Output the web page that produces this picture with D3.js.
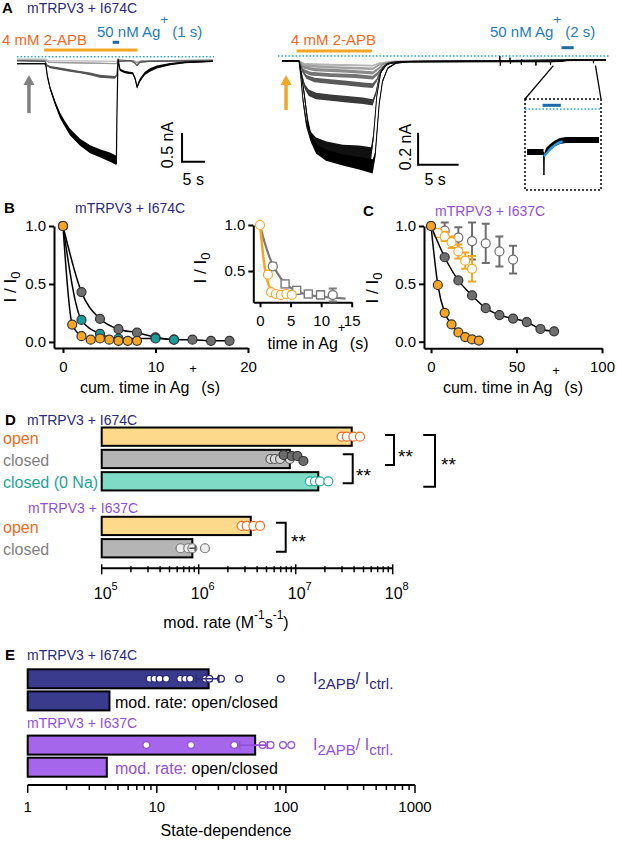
<!DOCTYPE html>
<html lang="en">
<head>
<meta charset="UTF-8">
<title>mTRPV3 state-dependent modification</title>
<script src="https://d3js.org/d3.v7.min.js"></script>
<style>
  body { margin: 0; background: #fff; }
  svg { display: block; }
</style>
</head>
<body>
<svg id="fig" width="617" height="841"></svg>
<script>
// ---------- data ----------
// panel A traces: [time (s), inward current (nA), noise half-width (nA)]
var leftBlack = [[0,0.12,0.01],[6.1,0.12,0.01],[6.3,0.16,0.02],[6.6,0.34,0.03],[7.2,0.55,0.03],[8.3,0.81,0.04],
  [9.35,1.02,0.05],[10.4,1.17,0.05],[11.5,1.31,0.06],[13.7,1.49,0.06],[15.9,1.61,0.07],[18,1.68,0.07],
  [20.2,1.75,0.08],[21.5,1.8,0.08],[21.6,1.86,0.04],[21.7,1.11,0.01],[21.9,0.23,0.01],[21.96,0.04,0.01],
  [22.4,0.23,0.02],[23.5,0.27,0.02],[25.2,0.29,0.02],[25.7,0.39,0.025],[26.1,0.53,0.03],[26.7,0.41,0.03],
  [27.8,0.29,0.03],[28.9,0.23,0.03],[30.4,0.18,0.025],[33.3,0.13,0.02],[36.5,0.1,0.015],[42.6,0.08,0.01]];
var leftGrey = [[0,0.07,0.008],[6.1,0.08,0.008],[6.5,0.15,0.015],[7.2,0.18,0.02],[9.35,0.21,0.02],[11.5,0.24,0.02],
  [13.7,0.27,0.02],[15.9,0.3,0.025],[18,0.34,0.025],[21.3,0.36,0.025],[21.7,0.32,0.01],[21.96,0.08,0.008],
  [24.6,0.07,0.008],[25.4,0.095,0.01],[26.1,0.15,0.01],[26.7,0.095,0.01],[28.9,0.08,0.008],[42.6,0.07,0.008]];
var leftLight1 = [[0,0.06,0.006],[6.1,0.06,0.006],[7,0.1,0.01],[21.6,0.12,0.01],[22,0.06,0.006],[25.4,0.07,0.006],
  [26.1,0.11,0.008],[27,0.07,0.006],[42.6,0.06,0.006]];
var leftLight2 = [[0,0.04,0.005],[6.1,0.04,0.005],[7,0.07,0.008],[21.6,0.08,0.008],[22,0.05,0.005],[26,0.08,0.006],[42.6,0.05,0.005]];

var rightBlack1 = [[0,0.03,0.004],[2.1,0.03,0.004],[2.35,0.1,0.01],[2.75,0.24,0.02],[3.17,0.41,0.025],[3.58,0.51,0.03],
  [4.2,0.58,0.03],[5.43,0.62,0.035],[7.5,0.65,0.035],[9.5,0.67,0.04],[11.2,0.69,0.045],[11.5,0.62,0.02],
  [12.0,0.3,0.01],[12.4,0.16,0.008],[13.05,0.076,0.006],[14.1,0.044,0.005],[15.7,0.035,0.004],
  [26.85,0.035,0.004],[26.9,0.0,0.003],[26.95,0.06,0.003],[27.0,0.035,0.004],[28.1,0.035,0.004],[28.15,0.01,0.003],
  [28.2,0.05,0.003],[28.25,0.035,0.004],[29.5,0.035,0.004],[29.55,0.055,0.003],[29.6,0.02,0.003],[29.65,0.035,0.004],
  [31.3,0.035,0.004],[31.35,0.06,0.003],[31.4,0.035,0.004],[33.1,0.035,0.004],[33.15,0.055,0.003],[33.2,0.035,0.004],
  [34.5,0.033,0.004],[35.5,0.024,0.004],[38.4,0.024,0.004],[38.45,0.045,0.003],[38.5,0.024,0.004],[40,0.022,0.004]];
var rightBlack2 = [[0,0.03,0.004],[2.1,0.03,0.004],[2.3,0.12,0.01],[2.6,0.28,0.02],[3.0,0.42,0.025],[3.5,0.5,0.03],
  [4.2,0.54,0.03],[5.5,0.57,0.035],[7.5,0.59,0.035],[9.5,0.6,0.04],[11.0,0.61,0.04],[11.3,0.5,0.02],
  [11.7,0.25,0.01],[12.2,0.1,0.008],[13,0.05,0.005],[14.5,0.035,0.004],[40,0.024,0.004]];
var rightDark = [[0,0.03,0.004],[2.1,0.03,0.004],[2.4,0.11,0.01],[2.8,0.19,0.015],[3.3,0.23,0.02],[4.2,0.25,0.02],
  [6,0.26,0.02],[8,0.27,0.02],[10,0.28,0.02],[11.2,0.29,0.02],[11.6,0.23,0.01],[12.0,0.13,0.008],
  [12.5,0.07,0.006],[13.2,0.045,0.005],[15,0.035,0.004],[40,0.025,0.004]];
var rightG1 = [[0,0.03,0.004],[2.1,0.03,0.004],[2.5,0.09,0.01],[3,0.13,0.012],[4,0.15,0.014],[6,0.16,0.015],
  [8,0.17,0.015],[10,0.18,0.015],[11.2,0.185,0.015],[11.7,0.15,0.01],[12.2,0.09,0.008],[12.8,0.05,0.005],
  [14,0.035,0.004],[40,0.025,0.004]];
var rightG2 = [[0,0.03,0.004],[2.1,0.03,0.004],[2.6,0.09,0.01],[3.5,0.11,0.012],[6,0.12,0.012],[9,0.125,0.012],
  [11.2,0.135,0.012],[11.8,0.11,0.01],[12.4,0.07,0.006],[13.5,0.04,0.004],[40,0.025,0.004]];
var rightG3 = [[0,0.03,0.004],[2.1,0.03,0.004],[2.6,0.07,0.008],[4,0.085,0.01],[8,0.095,0.01],[11.2,0.105,0.01],
  [11.9,0.08,0.008],[12.5,0.05,0.005],[14,0.035,0.004],[40,0.025,0.004]];
var rightG4 = [[0,0.03,0.004],[2.1,0.03,0.004],[2.7,0.06,0.008],[6,0.07,0.008],[11.2,0.08,0.008],[12,0.055,0.006],
  [13.5,0.035,0.004],[40,0.025,0.004]];
var rightG5 = [[0,0.03,0.004],[2.1,0.03,0.004],[2.8,0.05,0.006],[6,0.055,0.006],[11.2,0.06,0.006],[12,0.045,0.005],
  [13.5,0.033,0.004],[40,0.025,0.004]];
// zoomed inset of the Ag+ application: [time (s), current (pA), noise (pA)]
var insetTrace = [[0,43,3],[1.9,43,3],[1.95,66,0.5],[2.0,46,2],[2.2,42,3],[2.6,38.5,3],[3.2,34.5,3],
  [3.8,32,3],[4.5,31,3],[6,31,3],[8.3,31,3]];
var insetFit = [[1.95,47.5],[2.4,43],[2.9,38.5],[3.4,35],[4.1,32.5]];

// panel B (I674C): cumulative time in Ag+ (s) and I/I0
var bTimeGrey = [0,2,4,6,8,10,12,14,16,18];
var bGrey = [1,0.43,0.2,0.11,0.08,0.04,0.02,0.02,0.01,0.01];
var bTimeTeal = [0,2,4,6,10,12];
var bTeal = [1,0.19,0.07,0.03,0.03,0.02];
var bTimeOrange = [0,1,2,3,4,5,6,7,8];
var bOrange = [1,0.15,0.05,0.02,0.03,0.02,0.01,0.01,0.01];
// panel B inset
var biTimeOrange = [0,1.3,1.8,2.6,3.4,4.3,5.2];
var biOrange = [1,0.46,0.27,0.25,0.24,0.25,0.24];
var biTimeGrey = [2.1,4.1,6,7.9,9.9,11.9];
var biGrey = [0.55,0.36,0.29,0.25,0.24,0.24];
var biGreyErr = [0.04,0.02,0.02,0.02,0.04,0.07];
var biGreyShape = ["circle","square","square","square","square","circle"];
var biFitGreyT = [0,0.5,1,1.5,2,3,4,5,6,8,10,12,14];
var biFitGrey = [1,0.87,0.76,0.66,0.58,0.46,0.37,0.32,0.28,0.24,0.22,0.21,0.2];
var biFitOrangeT = [0,0.3,0.6,1,1.4,1.8,2.4,3,4,5.3];
var biFitOrange = [1,0.8,0.62,0.45,0.35,0.3,0.27,0.255,0.25,0.25];

// panel C (I637C)
var cTimeGrey = [0,8,16,24,32,40,48,56,64,72];
var cGrey = [1,0.73,0.53,0.4,0.29,0.23,0.2,0.17,0.11,0.09];
var cTimeOrange = [0,4,8,12,16,20,24,28];
var cOrange = [1,0.49,0.25,0.15,0.08,0.04,0.02,0.01];
var cTimeOpenOrange = [4,8,12,16,20,24];
var cOpenOrange = [0.94,0.91,0.86,0.78,0.7,0.63];
var cOpenOrangeErr = [0.03,0.04,0.05,0.06,0.07,0.11];
var cTimeOpenGrey = [8,16,24,32,40,48];
var cOpenGrey = [0.96,0.9,0.87,0.85,0.78,0.71];
var cOpenGreyErr = [0.07,0.09,0.16,0.17,0.13,0.12];

// panel D: modification rates (M-1 s-1)
var dLabels = ["open", "closed", "closed (0 Na)", "open", "closed"];
var dMeans = [3.78e7, 8.7e6, 1.71e7, 3.44e6, 8.6e5];
var dSem = [0, 0, 0, 0, 0.6e5];
var dPoints = [[2.98e7,3.36e7,3.93e7,4.6e7],
  [5.5e6,6.1e6,6.9e6,8.7e6],
  [1.40e7,1.58e7,1.78e7,2.17e7],
  [2.77e6,3.12e6,3.66e6,4.29e6],
  [6.5e5,7.8e5,8.6e5,1.16e6]];
var dClosedDark = [7.5e6,9.1e6,1.04e7,1.2e7];

// panel E: state-dependence
var eMeans = [25.2, 4.3, 57.8, 4.1];
var eSem = [5, 0, 14, 0];
var ePoints674 = [8.8,9.6,10.5,11.8,15.2,16.6,18.1,23.8,25.5,31.4,43.4,91.2];
var ePoints637 = [8.3,18.4,39.8,66,76,95,110];

// ---------- drawing ----------
var FONT = "'Liberation Sans', Arial, Helvetica, sans-serif";
var navy = "#2b2a7c", purple = "#9350db", orangeTxt = "#f26a21", orange = "#f6a623",
    blueTxt = "#1f7db8", blueBar = "#1c6aa6", cyan = "#29abe2", teal = "#1fa396", greyTxt = "#808080";

var svg = d3.select("#fig").attr("font-family", FONT);
svg.append("rect").attr("width", 617).attr("height", 841).attr("fill", "#fff");

function addText(x, y, str, size, fill, anchor, weight) {
    return svg.append("text")
        .attr("x", x).attr("y", y)
        .attr("font-size", size)
        .attr("fill", fill || "#000")
        .attr("text-anchor", anchor || "start")
        .attr("font-weight", weight || "normal")
        .text(str);
}

function trace(g, data, xs, ys, color, w) {
    var band = d3.area()
        .x(function (d) { return xs(d[0]); })
        .y0(function (d) { return ys(d[1] - d[2]); })
        .y1(function (d) { return ys(d[1] + d[2]); });
    var mid = d3.line()
        .x(function (d) { return xs(d[0]); })
        .y(function (d) { return ys(d[1]); });
    g.append("path").datum(data).attr("d", band).attr("fill", color);
    g.append("path").datum(data).attr("d", mid)
        .attr("fill", "none").attr("stroke", color)
        .attr("stroke-width", w).attr("stroke-linejoin", "round");
}

function hline(g, x1, x2, y, color, w, dash) {
    var l = g.append("line").attr("x1", x1).attr("x2", x2).attr("y1", y).attr("y2", y)
        .attr("stroke", color).attr("stroke-width", w);
    if (dash) l.attr("stroke-dasharray", dash);
    return l;
}

function arrow(g, x, yTail, yTip, color) {
    g.append("line").attr("x1", x).attr("x2", x).attr("y1", yTail).attr("y2", yTip + 8)
        .attr("stroke", color).attr("stroke-width", 3.5);
    g.append("path").attr("d", "M" + (x - 5.5) + "," + (yTip + 10) + "L" + x + "," + yTip + "L" + (x + 5.5) + "," + (yTip + 10) + "Z")
        .attr("fill", color);
}

function scaleBar(g, x, y0, y1, x1) {
    g.append("path").attr("d", "M" + x + "," + y0 + "V" + y1 + "H" + x1)
        .attr("fill", "none").attr("stroke", "#000").attr("stroke-width", 2);
}

function rotLabel(x, y, str, size) {
    svg.append("text").attr("transform", "translate(" + x + "," + y + ") rotate(-90)")
        .attr("text-anchor", "middle").attr("font-size", size).text(str);
}

function ylabI(x, y) {
    var t = svg.append("text").attr("transform", "translate(" + x + "," + y + ") rotate(-90)")
        .attr("text-anchor", "middle").attr("font-size", 17);
    t.append("tspan").text("I / I");
    t.append("tspan").attr("font-size", 13).attr("dy", 4).text("0");
}

function agLabel(x, y, pre, up) {
    var t = svg.append("text").attr("x", x).attr("y", y).attr("text-anchor", "middle").attr("font-size", 16);
    t.append("tspan").text(pre + " Ag");
    t.append("tspan").attr("font-size", 13).attr("dy", -up).text("+");
    t.append("tspan").attr("dy", up).text(" (s)");
}

function styleAxis(g, fs) {
    g.attr("font-family", FONT).attr("font-size", fs);
    g.select(".domain").attr("stroke", "#000").attr("stroke-width", 2);
    g.selectAll(".tick line").attr("stroke", "#000").attr("stroke-width", 2);
    g.selectAll(".tick text").attr("fill", "#000");
}

// ----- panel A -----
addText(2, 13, "A", 15, "#000", "start", "bold");
addText(27, 13, "mTRPV3 + I674C", 14, navy);

var gA = svg.append("g");
var xL = d3.scaleLinear().domain([0, 42.6]).range([17, 213]);
var yL = d3.scaleLinear().domain([0, 1.9]).range([56.7, 165.8]);
hline(gA, 17, 214, yL(0), cyan, 1.6, "1.5,2");
trace(gA, leftLight2, xL, yL, "#c4c4c4", 1);
trace(gA, leftLight1, xL, yL, "#9a9a9a", 1);
trace(gA, leftGrey, xL, yL, "#555", 1.2);
trace(gA, leftBlack, xL, yL, "#000", 1.2);
hline(gA, xL(5.9), xL(26.2), 50, orange, 3);
hline(gA, xL(20.8), xL(22.2), 42.3, blueBar, 3);
arrow(gA, xL(2.6), 113, 75, "#808080");
scaleBar(gA, xL(35.87), yL(1.33), yL(1.83), xL(40.87));
rotLabel(173, 145, "0.5 nA", 16);
addText(xL(38.3), 185, "5 s", 16, "#000", "middle");

addText(2, 45, "4 mM 2-APB", 15, orangeTxt);
var t1 = svg.append("text").attr("x", 97).attr("y", 37).attr("font-size", 15).attr("fill", blueTxt);
t1.append("tspan").text("50 nM Ag");
t1.append("tspan").attr("font-size", 13).attr("dy", -13).text("+");
t1.append("tspan").attr("dy", 13).text("  (1 s)");

var xR = d3.scaleLinear().domain([0, 40]).range([282, 606]);
var yR = d3.scaleLinear().domain([0, 0.75]).range([56, 176]);
hline(gA, 278, 610, yR(0), cyan, 1.6, "1.5,2");
[[rightG5, "#b4b4b4"], [rightG4, "#a2a2a2"], [rightG3, "#8c8c8c"], [rightG2, "#737373"],
 [rightG1, "#5a5a5a"], [rightDark, "#3a3a3a"], [rightBlack2, "#111"], [rightBlack1, "#000"]]
    .forEach(function (p) { trace(gA, p[0], xR, yR, p[1], 1); });
hline(gA, xR(1.8), xR(11.1), 51, orange, 3);
hline(gA, xR(34.5), xR(36.0), 47.7, blueBar, 3);
arrow(gA, xR(0.5), 110, 75, orange);
scaleBar(gA, xR(16.8), yR(0.48), yR(0.68), xR(21.8));
rotLabel(411, 147, "0.2 nA", 16);
addText(xR(18.9), 185, "5 s", 16, "#000", "middle");
addText(291, 45, "4 mM 2-APB", 15, orangeTxt);
var t2 = svg.append("text").attr("x", 490).attr("y", 37).attr("font-size", 15).attr("fill", blueTxt);
t2.append("tspan").text("50 nM Ag");
t2.append("tspan").attr("font-size", 13).attr("dy", -13).text("+");
t2.append("tspan").attr("dy", 13).text("  (2 s)");

// inset of the Ag+ step
var xI = d3.scaleLinear().domain([0, 8.3]).range([527, 599]);
var yI = d3.scaleLinear().domain([0, 60]).range([109, 169]);
gA.append("rect").attr("x", 525).attr("y", 99).attr("width", 76).attr("height", 91)
    .attr("fill", "none").attr("stroke", "#000").attr("stroke-width", 1.5).attr("stroke-dasharray", "2,2");
gA.append("line").attr("x1", xR(33.5)).attr("y1", yR(0.06)).attr("x2", 525).attr("y2", 99).attr("stroke", "#000").attr("stroke-width", 1.3);
gA.append("line").attr("x1", xR(38.7)).attr("y1", yR(0.06)).attr("x2", 601).attr("y2", 99).attr("stroke", "#000").attr("stroke-width", 1.3);
hline(gA, 525, 601, yI(0), cyan, 1.6, "1.5,2");
hline(gA, xI(1.8), xI(3.9), 105.3, blueBar, 3);
trace(gA, insetTrace, xI, yI, "#000", 1);
gA.append("path").datum(insetFit)
    .attr("d", d3.line().curve(d3.curveMonotoneX).x(function (d) { return xI(d[0]); }).y(function (d) { return yI(d[1]); }))
    .attr("fill", "none").attr("stroke", "#2b9be0").attr("stroke-width", 2.5);

// ----- panel B -----
addText(4, 213, "B", 15, "#000", "start", "bold");
addText(75, 213, "mTRPV3 + I674C", 14, navy);
var gB = svg.append("g");
var xB = d3.scaleLinear().domain([-0.97, 20]).range([54, 248]);
var yB = d3.scaleLinear().domain([-0.052, 1]).range([348, 226]);
styleAxis(gB.append("g").attr("transform", "translate(0,348)")
    .call(d3.axisBottom(xB).tickValues([0, 10, 20]).tickSize(5).tickSizeOuter(0).tickPadding(8)), 15);
styleAxis(gB.append("g").attr("transform", "translate(54,0)")
    .call(d3.axisLeft(yB).tickValues([0, 0.5, 1]).tickFormat(d3.format(".1f")).tickSize(5).tickSizeOuter(0).tickPadding(3)), 15);
ylabI(16, 287);
agLabel(150, 393, "cum. time in", 20);

function lineXY(g, ts, vs, xs, ys, color, w, curve) {
    var pts = ts.map(function (t, i) { return [t, vs[i]]; });
    g.append("path").datum(pts)
        .attr("d", d3.line().curve(curve || d3.curveMonotoneX)
            .x(function (d) { return xs(d[0]); }).y(function (d) { return ys(d[1]); }))
        .attr("fill", "none").attr("stroke", color).attr("stroke-width", w);
}
function dots(g, ts, vs, xs, ys, fill, stroke, r) {
    g.selectAll(null).data(ts).enter().append("circle")
        .attr("cx", function (t) { return xs(t); })
        .attr("cy", function (t, i) { return ys(vs[i]); })
        .attr("r", r).attr("fill", fill).attr("stroke", stroke).attr("stroke-width", 1.2);
}
function errBars(g, ts, vs, es, xs, ys, color) {
    ts.forEach(function (t, i) {
        var x = xs(t), y0 = ys(vs[i] - es[i]), y1 = ys(vs[i] + es[i]);
        g.append("path").attr("d", "M" + x + "," + y0 + "V" + y1 + "M" + (x - 4) + "," + y0 + "H" + (x + 4) + "M" + (x - 4) + "," + y1 + "H" + (x + 4))
            .attr("fill", "none").attr("stroke", color).attr("stroke-width", 2);
    });
}

lineXY(gB, bTimeGrey, bGrey, xB, yB, "#000", 1.5);
lineXY(gB, bTimeTeal, bTeal, xB, yB, "#000", 1.5);
lineXY(gB, bTimeOrange, bOrange, xB, yB, "#000", 1.5);
dots(gB, bTimeGrey, bGrey, xB, yB, "#6e6e6e", "#333", 4.5);
dots(gB, bTimeTeal, bTeal, xB, yB, "#1a9a9a", "#333", 4.5);
dots(gB, bTimeOrange, bOrange, xB, yB, orange, "#333", 4.5);

// inset
var xBi = d3.scaleLinear().domain([-1.1, 15]).range([253.3, 351.7]);
var yBi = d3.scaleLinear().domain([0.16, 1]).range([302.3, 225]);
styleAxis(gB.append("g").attr("transform", "translate(0,302.3)")
    .call(d3.axisBottom(xBi).tickValues([0, 5, 10, 15]).tickSize(5).tickSizeOuter(0).tickPadding(8)), 15);
styleAxis(gB.append("g").attr("transform", "translate(253.3,0)")
    .call(d3.axisLeft(yBi).tickValues([0.5, 1]).tickFormat(d3.format(".1f")).tickSize(5).tickSizeOuter(0).tickPadding(3)), 15);
ylabI(206, 268);
agLabel(318, 349, "time in", 17);
lineXY(gB, biFitGreyT, biFitGrey, xBi, yBi, "#7a7a7a", 2.2);
lineXY(gB, biFitOrangeT, biFitOrange, xBi, yBi, orange, 2.5);
errBars(gB, biTimeGrey, biGrey, biGreyErr, xBi, yBi, "#7a7a7a");
biTimeGrey.forEach(function (t, i) {
    var x = xBi(t), y = yBi(biGrey[i]);
    if (biGreyShape[i] === "square") {
        gB.append("rect").attr("x", x - 4).attr("y", y - 4).attr("width", 8).attr("height", 8)
            .attr("fill", "#fff").attr("stroke", "#7a7a7a").attr("stroke-width", 1.4);
    } else {
        gB.append("circle").attr("cx", x).attr("cy", y).attr("r", 4.5)
            .attr("fill", "#fff").attr("stroke", "#7a7a7a").attr("stroke-width", 1.4);
    }
});
dots(gB, biTimeOrange, biOrange, xBi, yBi, "#fff", orange, 4.5);

// ----- panel C -----
addText(363, 216, "C", 15, "#000", "start", "bold");
addText(435, 216, "mTRPV3 + I637C", 14, purple);
var gC = svg.append("g");
var xC = d3.scaleLinear().domain([-4.1, 100]).range([424, 602]);
var yC = d3.scaleLinear().domain([-0.057, 1]).range([348.3, 226]);
styleAxis(gC.append("g").attr("transform", "translate(0,348.3)")
    .call(d3.axisBottom(xC).tickValues([0, 50, 100]).tickSize(5).tickSizeOuter(0).tickPadding(8)), 15);
styleAxis(gC.append("g").attr("transform", "translate(424,0)")
    .call(d3.axisLeft(yC).tickValues([0, 0.5, 1]).tickFormat(d3.format(".1f")).tickSize(5).tickSizeOuter(0).tickPadding(3)), 15);
ylabI(378, 288);
agLabel(513, 393, "cum. time in", 18);
errBars(gC, cTimeOpenGrey, cOpenGrey, cOpenGreyErr, xC, yC, "#6e6e6e");
dots(gC, cTimeOpenGrey, cOpenGrey, xC, yC, "#fff", "#6e6e6e", 4.5);
errBars(gC, cTimeOpenOrange, cOpenOrange, cOpenOrangeErr, xC, yC, orange);
dots(gC, cTimeOpenOrange, cOpenOrange, xC, yC, "#fff", orange, 4.5);
lineXY(gC, cTimeGrey, cGrey, xC, yC, "#000", 1.5);
lineXY(gC, cTimeOrange, cOrange, xC, yC, "#000", 1.5);
dots(gC, cTimeGrey, cGrey, xC, yC, "#6e6e6e", "#333", 4.5);
dots(gC, cTimeOrange, cOrange, xC, yC, orange, "#333", 4.5);

// ----- panel D -----
addText(5, 425, "D", 15, "#000", "start", "bold");
addText(27, 425, "mTRPV3 + I674C", 14, navy);
addText(28, 513, "mTRPV3 + I637C", 14, purple);
var gD = svg.append("g");
var xD = d3.scaleLog().domain([1e5, 1e8]).range([101.7, 392.7]);
var yD = d3.scaleBand().domain(d3.range(6)).range([425.5, 559.4]).paddingInner(0.18).paddingOuter(0.09);
var dSlot = [0, 1, 2, 4, 5];
var dFill = ["#fdd98c", "#b5b5b5", "#7fdbc6", "#fdd98c", "#b5b5b5"];
var dTxt = [orangeTxt, greyTxt, teal, orangeTxt, greyTxt];
var bwD = yD.bandwidth();
dMeans.forEach(function (m, i) {
    var y = yD(dSlot[i]);
    gD.append("rect").attr("x", xD(1e5)).attr("y", y).attr("width", xD(m) - xD(1e5)).attr("height", bwD)
        .attr("fill", dFill[i]).attr("stroke", "#000").attr("stroke-width", 2);
    addText(3, y + bwD / 2 + 7, dLabels[i], 16, dTxt[i]);
});
function dPts(vals, cy, fill, stroke, offs) {
    gD.selectAll(null).data(vals).enter().append("circle")
        .attr("cx", function (v) { return xD(v); })
        .attr("cy", function (v, j) { return cy + (offs ? offs[j] : 0); })
        .attr("r", 4.5).attr("fill", fill).attr("stroke", stroke).attr("stroke-width", 1.2);
}
var c = function (i) { return yD(dSlot[i]) + bwD / 2; };
dPts(dPoints[0], c(0), "#fff", "#f26a21");
dPts(dPoints[1], c(1), "#d9d9d9", "#555");
dPts(dClosedDark, c(1), "#6b6b6b", "#333", [-4, -3, -3, 2]);
dPts(dPoints[2], c(2), "#fff", "#27a99e");
dPts(dPoints[3], c(3), "#fff", "#f26a21");
dPts(dPoints[4], c(4), "#eee", "#7a7a7a");
dSem.forEach(function (s, i) {
    if (!s) return;
    var y = c(i);
    gD.append("path").attr("d", "M" + xD(dMeans[i] - s) + "," + y + "H" + xD(dMeans[i] + s) + "M" + xD(dMeans[i] + s) + "," + (y - 3) + "V" + (y + 3))
        .attr("stroke", "#555").attr("stroke-width", 1.5).attr("fill", "none");
});
function bracket(x0, x1, yTop, yBot, sx, sy) {
    gD.append("path").attr("d", "M" + x0 + "," + yTop + "H" + x1 + "V" + yBot + "H" + x0)
        .attr("fill", "none").attr("stroke", "#000").attr("stroke-width", 2);
    addText(sx, sy, "**", 19);
}
bracket(385, 394, 435, 465, 398, 463);
bracket(342.7, 352.7, 454.3, 483.3, 356, 482);
bracket(423.3, 435, 435, 486.7, 441, 471);
bracket(276, 285.7, 522.7, 551.7, 291, 548);
// log axis
var yAxD = 568.3;
gD.append("line").attr("x1", xD(1e5)).attr("x2", xD(1e8)).attr("y1", yAxD).attr("y2", yAxD).attr("stroke", "#000").attr("stroke-width", 2);
gD.selectAll(null).data(xD.ticks()).enter().append("line")
    .attr("x1", function (d) { return xD(d); }).attr("x2", function (d) { return xD(d); })
    .attr("y1", function (d) { return Math.log10(d) % 1 === 0 ? yAxD - 4 : yAxD - 2; })
    .attr("y2", function (d) { return Math.log10(d) % 1 === 0 ? yAxD + 6 : yAxD + 4; })
    .attr("stroke", "#000").attr("stroke-width", 1.5);
[5, 6, 7, 8].forEach(function (e) {
    var t = svg.append("text").attr("x", xD(Math.pow(10, e)) + 4).attr("y", 599).attr("text-anchor", "middle").attr("font-size", 16);
    t.append("tspan").text("10");
    t.append("tspan").attr("font-size", 11).attr("dy", -9).text(e);
});
var tD = svg.append("text").attr("x", 226).attr("y", 628).attr("text-anchor", "middle").attr("font-size", 16);
tD.append("tspan").text("mod. rate (M");
tD.append("tspan").attr("font-size", 12).attr("dy", -9).text("-1");
tD.append("tspan").attr("dy", 9).text("s");
tD.append("tspan").attr("font-size", 12).attr("dy", -9).text("-1");
tD.append("tspan").attr("dy", 9).text(")");

// ----- panel E -----
addText(5, 660, "E", 15, "#000", "start", "bold");
addText(27, 660, "mTRPV3 + I674C", 14, navy);
addText(27, 728, "mTRPV3 + I637C", 14, purple);
var gE = svg.append("g");
var xE = d3.scaleLog().domain([1, 1000]).range([27.7, 415]);
var yE = d3.scaleBand().domain(d3.range(5)).range([667.75, 778.25]).paddingInner(0.14).paddingOuter(0.07);
var eSlot = [0, 1, 3, 4];
var eFill = ["#3b3b8e", "#3b3b8e", "#a566ec", "#a566ec"];
var eCol = [navy, navy, purple, purple];
var bwE = yE.bandwidth();
eMeans.forEach(function (m, i) {
    gE.append("rect").attr("x", xE(1)).attr("y", yE(eSlot[i])).attr("width", xE(m) - xE(1)).attr("height", bwE)
        .attr("fill", eFill[i]).attr("stroke", "#000").attr("stroke-width", 2);
});
function ePts(vals, cy, color) {
    gE.selectAll(null).data(vals).enter().append("circle")
        .attr("cx", function (v) { return xE(v); }).attr("cy", cy)
        .attr("r", 3.4).attr("fill", "#fff").attr("stroke", color).attr("stroke-width", 1.3);
}
ePts(ePoints674, yE(0) + bwE / 2, navy);
ePts(ePoints637, yE(3) + bwE / 2, purple);
eSem.forEach(function (s, i) {
    if (!s) return;
    var y = yE(eSlot[i]) + bwE / 2, a = xE(eMeans[i] - s), b = xE(eMeans[i] + s);
    gE.append("path").attr("d", "M" + a + "," + y + "H" + b + "M" + a + "," + (y - 4) + "V" + (y + 4) + "M" + b + "," + (y - 4) + "V" + (y + 4))
        .attr("stroke", eCol[i]).attr("stroke-width", 1.6).attr("fill", "none");
});
function ratioLabel(y, color) {
    var t = svg.append("text").attr("x", 313).attr("y", y).attr("font-size", 16).attr("fill", color);
    t.append("tspan").text("I");
    t.append("tspan").attr("font-size", 15).attr("dy", 5).text("2APB");
    t.append("tspan").attr("dy", -5).text("/ I");
    t.append("tspan").attr("font-size", 15).attr("dy", 5).text("ctrl.");
}
ratioLabel(yE(0) + bwE / 2 + 5, navy);
ratioLabel(yE(3) + bwE / 2 + 5, purple);
function modLabel(y, color) {
    var t = svg.append("text").attr("x", 115).attr("y", y).attr("font-size", 16);
    t.append("tspan").attr("fill", color).text("mod. rate: ");
    t.append("tspan").attr("fill", "#000").text("open/closed");
}
modLabel(yE(1) + bwE / 2 + 7, "#000");
modLabel(yE(4) + bwE / 2 + 7, purple);
var yAxE = 785;
gE.append("line").attr("x1", xE(1)).attr("x2", xE(1000)).attr("y1", yAxE).attr("y2", yAxE).attr("stroke", "#000").attr("stroke-width", 2);
gE.selectAll(null).data(xE.ticks()).enter().append("line")
    .attr("x1", function (d) { return xE(d); }).attr("x2", function (d) { return xE(d); })
    .attr("y1", yAxE)
    .attr("y2", function (d) { return Math.abs(Math.log10(d) % 1) < 1e-9 ? yAxE + 8 : yAxE + 5; })
    .attr("stroke", "#000").attr("stroke-width", 1.5);
[1, 10, 100, 1000].forEach(function (v) { addText(xE(v), 812, String(v), 15, "#000", "middle"); });
addText(226, 836, "State-dependence", 16, "#000", "middle");
</script>
</body>
</html>
